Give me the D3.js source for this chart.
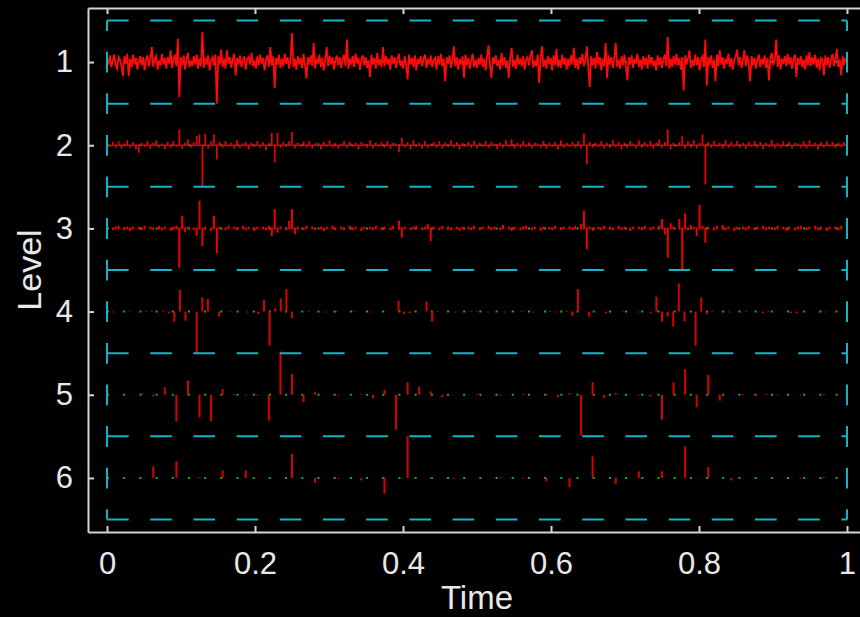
<!DOCTYPE html>
<html>
<head>
<meta charset="utf-8">
<script src="https://cdn.jsdelivr.net/npm/d3@7"></script>
<style>
  html, body { margin: 0; padding: 0; background: #000; }
  svg { display: block; }
  text { font-family: 'Liberation Sans', Arial, sans-serif; }
</style>
</head>
<body>
<div class="coef-plot"></div>
<script>
// levels on the y axis and ticks on the x axis
const levels = [1, 2, 3, 4, 5, 6];
const halfLevels = [0.5, 1.5, 2.5, 3.5, 4.5, 5.5, 6.5];
const xTicks = [0, 0.2, 0.4, 0.6, 0.8, 1];
const xTickLabels = ['0', '0.2', '0.4', '0.6', '0.8', '1'];

// detail coefficients, in hundredths of a level (positive = up)
const level1 = [
 5,-3,8,-6,2,9,-4,-8,6,3,-5,-17,7,-2,10,-17,4,-6,9,-3,5,-9,2,7,-4,6,-10,3,8,-5,4,18,
 -6,3,7,-9,2,-4,10,-3,5,-8,6,-2,14,-7,3,9,-5,28,-42,6,-4,8,-9,3,11,-6,2,-5,7,-3,9,-8,
 4,-5,36,-7,5,-3,8,-10,2,6,-4,9,-50,7,-3,15,-6,4,-8,14,-2,6,-7,3,10,-16,5,-3,8,-6,2,7,
 -9,4,6,-3,11,-5,2,-8,7,-4,9,-2,5,-10,3,8,-6,18,-4,7,-31,5,-3,9,-7,4,-5,10,-2,6,-8,3,
 35,-6,4,-9,7,-3,5,-7,10,-4,-20,6,-3,8,-5,23,-8,4,-2,9,-6,5,-10,3,18,-5,7,-3,6,-9,2,8,
 -4,6,-7,3,9,-5,27,-8,4,-3,7,-6,10,-2,5,-9,3,8,-4,6,-7,2,-18,9,-3,5,-8,11,-4,3,-6,18,
 -5,7,-3,4,-9,8,-2,6,-7,3,10,-5,2,-8,7,-4,-21,9,-3,5,-6,8,-10,4,-2,7,-5,3,9,-7,4,-3,
 8,-6,2,5,-9,7,-3,10,-5,4,-23,6,-2,8,-7,3,19,-5,6,-9,4,-3,7,-19,9,-4,5,-8,2,10,-6,3,
 -7,5,-3,9,-6,4,-10,7,20,-4,-19,6,-2,8,-5,3,-9,11,-4,6,-7,2,-19,5,17,-6,3,-8,9,-3,4,-5,
 7,-9,3,6,-4,8,14,-7,2,-5,9,-25,4,19,-6,3,-8,7,-2,5,-10,8,-4,16,-6,3,-7,9,-3,5,-9,4,
 -5,8,-3,17,-7,4,-9,6,-2,10,-5,3,19,-6,-30,7,-4,5,-8,12,-3,6,-10,4,-5,23,-19,8,-3,6,-7,4,
 23,-6,3,-8,7,-4,9,-5,-22,6,-3,8,-7,4,-2,10,-6,3,-9,7,-4,5,-8,9,-3,6,-5,2,-10,8,-4,6,
 -7,3,9,-5,30,-8,4,-6,7,-3,10,-4,5,-9,6,-34,8,-3,5,14,-7,3,-5,9,-4,6,-10,3,7,-6,27,-28,
 6,-4,8,-7,3,-23,9,-5,14,-3,6,-8,4,-2,10,-6,5,-9,3,7,15,-4,6,-7,2,14,-5,8,-3,-23,7,-4,
 5,-8,3,9,-6,4,-3,8,-7,5,-22,6,11,-4,3,27,-6,8,-9,4,-2,7,-5,10,-3,6,-8,4,9,-18,5,-3,
 7,-6,3,-9,8,-4,12,-5,6,-3,9,-7,4,-10,5,3,-16,8,-4,6,-7,3,10,-5,4,16,-6,3,-16,7,-4,5
];
const level2 = [
 2,-1,3,-2,4,-3,1,5,-2,3,-4,-8,2,-1,4,-3,2,5,-2,1,-4,3,-2,4,-1,18,-3,2,6,-2,3,10,
 12,-50,13,-3,4,12,-16,3,-2,4,-1,2,-3,5,-2,1,3,-4,2,-1,4,-2,3,-5,2,14,-20,14,-2,3,-1,4,
 15,-3,2,-1,3,-2,4,-3,1,2,-4,3,-1,5,-2,2,-3,1,4,-2,3,-1,2,-4,3,1,-2,5,-3,2,-1,3,
 -2,4,-3,2,1,-7,8,-2,3,-4,5,-1,2,-3,4,-2,1,3,-2,4,-3,2,-1,5,-2,3,-4,2,-1,3,-2,4,
 -3,2,-1,4,-2,3,1,-4,2,-2,5,-1,6,-3,2,-2,4,-1,3,-3,2,1,-2,4,-3,2,-1,3,-4,5,-2,2,
 -1,3,-2,4,-3,13,-22,3,-2,2,-1,4,-3,2,-2,5,-1,3,-4,2,-2,4,1,-3,5,-2,3,-1,4,-3,2,6,
 -2,3,18,-4,2,-1,3,10,-3,4,-2,5,-3,2,12,-46,3,-2,4,-1,2,-3,5,-2,3,-1,4,-2,2,-3,3,-1,
 4,-2,3,-4,2,-1,5,-3,2,-2,4,-1,3,-3,2,1,-2,4,-3,5,-1,2,-4,3,-2,4,-1,3,-2,2,-1,3
];
const level3 = [
 1,0,-1,1,2,0,-1,1,-2,1,0,1,-1,2,0,1,-1,0,2,-1,1,0,-2,1,2,-46,14,-3,1,0,-1,-8,
 32,-20,1,0,-2,14,-29,1,0,-1,2,0,1,-1,0,2,-1,1,0,-2,1,0,1,-1,2,-8,22,-4,1,0,-1,8,
 22,-6,1,0,-1,2,0,1,-1,0,1,-2,1,0,2,-1,0,1,-1,0,2,-1,1,0,-2,1,0,1,-1,2,0,-1,
 1,0,-1,2,0,8,-10,1,0,-1,1,2,0,-1,1,4,-14,1,0,-1,2,0,1,-1,0,1,-2,1,0,1,-1,2,
 0,-1,1,0,2,-1,1,0,-1,3,0,1,-2,1,0,-1,1,2,0,-1,1,0,-2,1,0,1,-1,2,0,-1,1,0,
 1,-1,2,0,4,20,-24,1,-2,0,1,-1,2,0,1,-1,0,2,-1,1,0,-2,1,0,1,-1,2,0,-1,1,0,2,
 10,-6,-34,5,1,0,10,-50,17,-1,3,1,-8,27,2,-16,1,0,-1,2,0,3,-1,1,0,-2,1,0,1,-1,2,0,
 -1,1,0,2,-1,1,0,-1,2,0,1,-2,1,0,-1,1,2,0,-1,1,0,2,-1,1,0,-2,1,0,1,-1,2,0
];
const level4 = [
 0,-1,0,0,1,0,1,1,1,0,1,-2,-12,26,-11,0,-50,17,15,0,-6,0,1,0,0,-1,0,-3,14,-41,4,16,
 27,-8,0,0,1,0,0,-1,0,1,0,0,1,0,0,-1,0,0,0,0,13,-3,-2,0,0,12,-12,1,0,0,-1,0,0,1,
 1,0,-1,0,0,-1,0,0,1,0,-1,0,0,1,-1,0,1,-5,27,0,-6,1,0,-2,0,0,1,0,0,-1,0,-2,
 18,-12,-6,-18,34,-12,0,-41,17,-3,1,0,0,-1,0,0,1,0,0,-2,1,0,0,0,-2,-2,0,0,0,-1,-1,0,1,0
];
const level5 = [
 0,0,0,2,-2,9,-32,17,-27,-32,7,1,-1,-1,-31,52,25,-9,3,0,-1,0,1,-4,6,-42,15,10,4,-3,0,0,
 1,0,-1,0,1,0,1,-3,2,-49,15,-4,2,0,-1,-2,-30,15,31,-15,24,-7,0,1,1,1,-1,1,-1,0,1,0
];
const level6 = [
 1,0,14,20,1,9,9,1,29,-6,-1,-3,-19,50,1,-1,0,1,-1,-4,-11,26,-7,8,8,38,13,-3,0,0,-1,1
];
const coefs = [level1, level2, level3, level4, level5, level6];

const width = 860;
const height = 617;

const x = d3.scaleLinear().domain([-0.0257, 1.0257]).range([88, 866]);
const y = d3.scaleLinear().domain([0.35, 6.65]).range([8, 532]);

const svg = d3.select('.coef-plot')
	.append('svg')
	.attr('width', width)
	.attr('height', height)
	.style('background', '#000');

// green dotted base line for each level
svg.selectAll('line.base')
	.data(levels)
	.enter()
	.append('line')
	.attr('class', 'base')
	.attr('x1', x(0))
	.attr('x2', x(1))
	.attr('y1', d => y(d))
	.attr('y2', d => y(d))
	.attr('stroke', '#1fae1f')
	.attr('stroke-width', 2)
	.attr('stroke-dasharray', '2 14.19');

// level 1 is dense: draw it as a jagged trace
const trace = d3.line()
	.x((v, i) => x(i / level1.length))
	.y(v => y(levels[0] - v / 100));
svg.append('path')
	.datum(level1)
	.attr('d', trace)
	.attr('fill', 'none')
	.attr('stroke', '#ff0a0a')
	.attr('stroke-width', 1.8);

// level 2 sits on a thin red line
svg.append('line')
	.attr('x1', x(0))
	.attr('x2', x(1))
	.attr('y1', y(levels[1]))
	.attr('y2', y(levels[1]))
	.attr('stroke', '#ee0000')
	.attr('stroke-width', 1.2);

// levels 2 to 6: red stems
coefs.slice(1).forEach((vals, j) => {
	const k = j + 1;
	const lev = levels[k];
	const n = vals.length;
	const pts = vals.map((v, i) => ({t: i / n, v: v})).filter(d => d.v !== 0);
	svg.append('g')
		.selectAll('line')
		.data(pts)
		.enter()
		.append('line')
		.attr('x1', d => x(d.t))
		.attr('x2', d => x(d.t))
		.attr('y1', y(lev))
		.attr('y2', d => y(lev - d.v / 100))
		.attr('stroke', k < 3 ? '#ee0000' : '#d80000')
		.attr('stroke-width', k === 1 ? 1.7 : 2)
		.attr('stroke-linecap', k < 3 ? 'square' : 'butt');
});

// cyan dashed separators
svg.selectAll('line.sep')
	.data(halfLevels)
	.enter()
	.append('line')
	.attr('class', 'sep')
	.attr('x1', x(0))
	.attr('x2', x(1))
	.attr('y1', d => y(d))
	.attr('y2', d => y(d))
	.attr('stroke', '#14b4c4')
	.attr('stroke-width', 2)
	.attr('stroke-dasharray', '21.6 21.6');

svg.selectAll('line.side')
	.data([0, 1])
	.enter()
	.append('line')
	.attr('class', 'side')
	.attr('x1', d => x(d))
	.attr('x2', d => x(d))
	.attr('y1', y(0.5))
	.attr('y2', y(6.5))
	.attr('stroke', '#14b4c4')
	.attr('stroke-width', 2)
	.attr('stroke-dasharray', '20.8 20.8')
	.attr('stroke-dashoffset', 10.4);

// axes
const axisColor = '#d4d4d4';
const bottomAxis = svg.append('g')
	.attr('transform', 'translate(0,532)')
	.call(d3.axisBottom(x).tickValues(xTicks)
		.tickFormat((d, i) => xTickLabels[i])
		.tickSizeInner(-6).tickSizeOuter(0).tickPadding(20));

const topAxis = svg.append('g')
	.attr('transform', 'translate(0,8)')
	.call(d3.axisTop(x).tickValues(xTicks).tickFormat('')
		.tickSizeInner(-6).tickSizeOuter(0));

const leftAxis = svg.append('g')
	.attr('transform', 'translate(88,0)')
	.call(d3.axisLeft(y).tickValues(levels)
		.tickFormat(d3.format('d'))
		.tickSizeInner(-6).tickSizeOuter(0).tickPadding(15));

[bottomAxis, topAxis, leftAxis].forEach(g => {
	g.select('.domain').attr('stroke', axisColor).attr('stroke-width', 2);
	g.selectAll('.tick line').attr('stroke', axisColor).attr('stroke-width', 2);
	g.selectAll('.tick text')
		.attr('fill', '#e8e8e8')
		.attr('font-size', '31px')
		.style('font-family', "'Liberation Sans', Arial, sans-serif");
});

svg.append('text')
	.attr('x', (x(0) + x(1)) / 2)
	.attr('y', 609)
	.attr('text-anchor', 'middle')
	.attr('font-size', '33px')
	.attr('fill', '#e8e8e8')
	.text('Time');

svg.append('text')
	.attr('transform', 'translate(41,' + y(3.5) + ') rotate(-90)')
	.attr('text-anchor', 'middle')
	.attr('font-size', '34px')
	.attr('fill', '#e8e8e8')
	.text('Level');
</script>
</body>
</html>
